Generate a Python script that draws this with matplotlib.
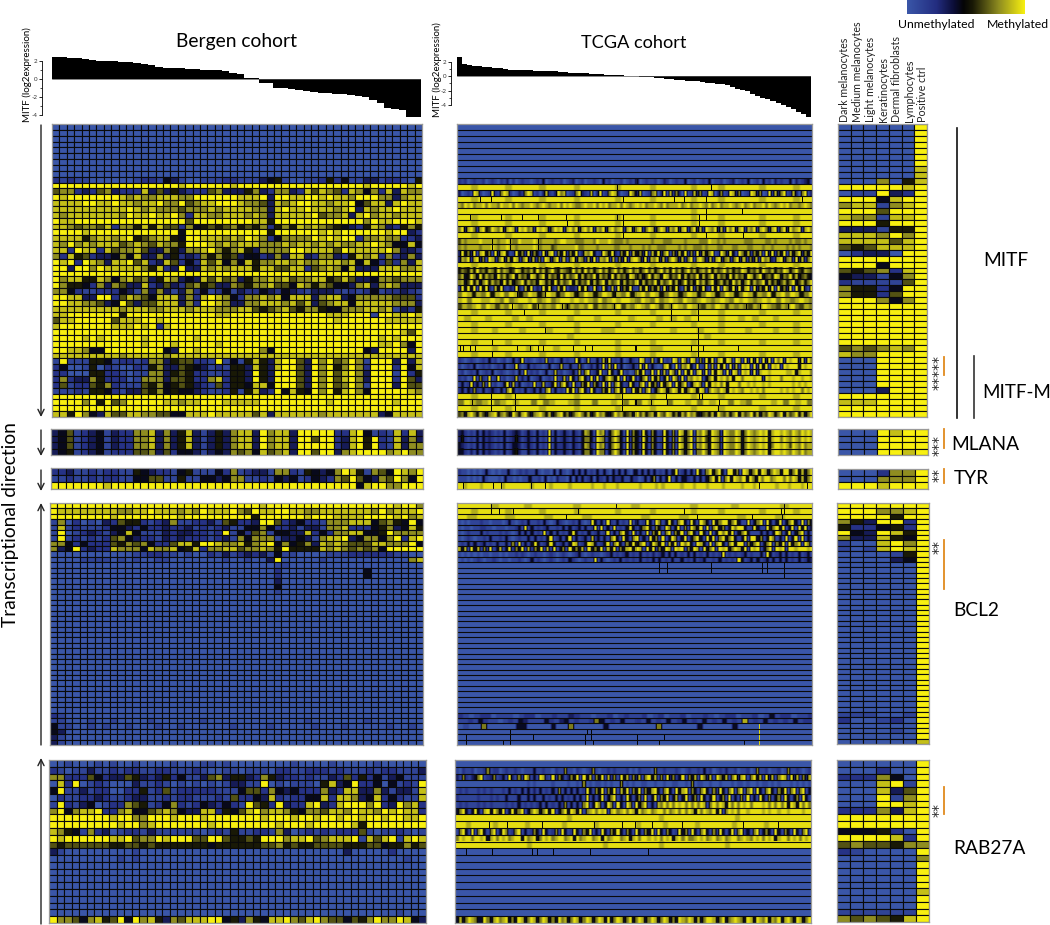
import numpy as np
import matplotlib
matplotlib.use('Agg')
import matplotlib.pyplot as plt
from matplotlib.colors import LinearSegmentedColormap

plt.rcParams['font.family'] = ['Lato', 'DejaVu Sans']

W, H = 1050, 925

# MITF expression, one value per sample
bergen_expr = [2.45, 2.45, 2.35, 2.3, 2.2, 2.1, 2.05, 2.0, 1.95, 1.9, 1.85, 1.8, 1.7, 1.55, 1.3, 1.25, 1.25,
               1.2, 1.15, 1.1, 1.05, 1.05, 0.95, 0.9, 0.7, 0.6, 0.15, 0.1, -0.4, -0.4, -0.95, -1.0, -1.1,
               -1.25, -1.3, -1.4, -1.5, -1.55, -1.65, -1.7, -1.8, -1.85, -1.95, -2.3, -2.7, -3.2, -3.35,
               -3.45, -4.2, -4.25]
tcga_expr = [2.6, 1.6, 1.5, 1.4, 1.35, 1.3, 1.2, 1.15, 1.05, 1.0, .9, .87, .84, .8, .78, .75, .72, .7, .67, .64,
             .6, .55, .5, .46, .42, .38, .34, .3, .26, .22, .18, .14, .1, .06, .02, -.03, -.07, -.12, -.18,
             -.24, -.3, -.36, -.42, -.48, -.54, -.6, -.65, -.72, -.8, -.88, -.95, -1.02, -1.1, -1.25, -1.45,
             -1.7, -1.9, -2.1, -2.45, -2.7, -3.0, -3.2, -3.4, -3.7, -4.0, -4.2, -4.5, -4.85, -5.2, -5.55]

cell_types = ['Dark melanocytes', 'Medium melanocytes', 'Light melanocytes', 'Keratinocytes',
              'Dermal fibroblasts', 'Lymphocytes', 'Positive ctrl']

# methylation per cell, 0 = unmethylated (blue), 4-5 = black, 9 = methylated (yellow)
blue = '0' * 50

bergen_mitf = [blue] * 9 + [
    '21211000000122143100111221113451001125241133122105',
    '99999999999999999899999989999999999999999989999989',
    '67723267322283635322267333573277328687628747283877',
    '98999999987877888779999998889399889989887999773788',
    '88889988988788977967889998776387899887889468838988',
    '88888888889878777677787888877389889888789387889888',
    '87888888879889889728877888787388888967783897887888',
    '98899999999999999969999999988599999999999979889998',
    '88767768277585866274565675657257587876543258732575',
    '99998999999999999499999999999599999989899999989932',
    '88885788789567885499888787987247777989899277877223',
    '87978788867876877599987878887778788787877889874484',
    '88298828677863375377897578537777998888698888897332',
    '72856233474833735232757563442373883277325878272373',
    '98929873889682386242868474857788787788878484262738',
    '99399798888875823933878788858866882678748333888778',
    '99999999999999999999999999999999999999999999999999',
    '97885587478673587343868673577878677885686334776777',
    '97554273763382363267563376577866487576443783787333',
    '77421122243173731372412413224324321333212124122321',
    '99883399268764888372898742778784888378834777776662',
    '99887763496366888372998733778887868367884888887773',
    '88888888878887788878887778865678657754477788781325',
    '88999999959999999999998899999999999998889991998898',
    '68899999688899899999999999999999999999899999988888',
    '89999999888989289999999999999999999999999999999999',
    '99999999999999999999999999999999999999999999999869',
    '99998989999989999998999999999999999999999999898999',
    '99999999999989998999998999999999999999999999889749',
    '99887449999999943998999999997499999999999943999939',
    '88888888878888878888888888888888888888888888888888',
    '19111554122127735662219141585389963979679719993938',
    '24001502100215733654312155385389963979579729992948',
    '22000552210117735652211255395399963979689739991925',
    '27233752220177736652278255395399963979689739992963',
    '26122657211165745653216255488499963979679719993966',
    '11121554213365745443211251583294854979589749999987',
    '99999999999999999999999999999999999999999999999999',
    '99997959679999988788999888889999999998999999998999',
    '99999999999999999999999999999999999999999999999999',
    '88597438668877664488898888868388888878888888348888',
]
bergen_mlana = [
    '34612341322778373583135378839788399999228941218283',
    '34612341322778373583135378839788399699238959218373',
    '34612341322778373583135378839788399999238959218377',
    '34512341222667362443134376748678399699378999978977',
]
bergen_tyr = [
    '22311212211543221451114271233177215434798517649879',
    '11211212211446611511443477112143412432769643769749',
    '99999998999999999999999999999999999999999489977999',
]
bergen_bcl2 = [
    '99999999999999999999999999998999999999999999998997',
    '98888888877889888787988897698899887788888887978889',
    '99999999899999999899999999959999998999888899998978',
    '17020103265521237112231652239962342217778884675494',
    '18121112443242232231212311447422313317782224573485',
    '19012321348411132332212914267144338242778844597777',
    '19121212674322132322212317477713343178893477479289',
    '77424222657674226885998778578947457387876668877794',
    '73492322877748778458277886778759555587876767499999',
    '00000000000112211010021312323141100001112222221100',
    '00001111010100110000000100100390000010000000000078',
    '00000000000000000000000000000011000000000000000000',
    '00000000000000000000000000000020000000000040000000',
    '00000000000000000000000000000020000000000040000000',
    '00000000000000000000000000000030000000000000000000',
    '00000000000000000000000000000040000000000000000000',
    '00000000000000000000000000000010000000000000000000',
] + [blue] * 22 + [
    '21000000000000000000000000000000000000000000000000',
    '11000100100001000000100000000000001000000010000000',
    '41100101001000100100000010000100000100010000010010',
    '43000000000000000000000000000000000000000000000000',
    '31000000000000000000000000000000000000000000000000',
    '31000000000000000000000000000000000000000000000000',
]
bergen_rab = [
    '00100010100100001000110100000000100001000001000000',
    '21011311212211221112100110111022112221211121221113',
    '77222642336532352411367355327532212113262524134111',
    '08290121000311210101010133119010111058349224041219',
    '49113122002251261222221114662743422273288337313318',
    '02112232112331121221112162243821224482887348242118',
    '19213401227651247212432421965293228932899979239782',
    '79478892278446787433882546897887547768879887989882',
    '99999999899779998999899999998999899899899899899889',
    '99999999989978999999989999999989998999998599999999',
    '87541723012213111111012151122173012121222610112101',
    '98999999889677989996699655659997889678889186891898',
    '65666666556656555555545555556675655666655566455756',
    '31000000000100000000000000000000000000030000020000',
    '00000000010100000000000000000000000000000000000100',
] + [blue] * 7 + [
    '00000000000000000000000000000000000000000000001000',
    '97764785694978537688899453754889768976646579779843',
]

cell_mitf = ['0000009'] * 7 + ['0000008'] * 2 + [
    '0007058', '9999989', '0119329', '9994899', '7881789', '9996999', '8771889', '9995999', '3331559',
    '8887979', '8888689', '6568889', '0233099', '9999999', '9994999', '6567289', '4331479', '2111169',
    '7552499', '7552699', '9997479', '9999999', '9999999', '9999999', '9999999', '9999999', '9999999',
    '9999999', '6767879', '8779999', '0009999', '0009999', '0009999', '0009999', '0009999', '0003999',
    '9999999', '8889999', '9999999', '9999999',
]
cell_mlana = ['0009899', '0009999', '0009999', '0009989']
cell_tyr = ['0002779', '0007779', '9998999']
cell_bcl2 = ['9999999', '9997789', '9999599', '7539929', '5224529', '9439859', '7338549', '1008979', '1018989',
             '0000159', '0000349'] + ['0000009'] * 28 + ['1110019', '2001209', '0000009', '0000109', '0000009',
             '0000008']
cell_rab = ['0000009', '0002009', '2227409', '0008919', '0008369', '0009179', '0009989', '2227389', '9999999',
            '9999999', '4445209', '9999829', '6766577', '2100009', '0000007', '0000009', '0000009', '0000009',
            '0000009', '0000008', '0000009', '0000009', '1111119', '7676589']

tcga_blue = '0'
tcga_yel = '9989999899998999989999989999899999899989999989999899'
tcga_mitf = [tcga_blue] * 9 + [
    '2120121120121021302012110121401211201230120112104120112012140121120132012114012012140112012301214012041203121140312341',
    tcga_yel,
    '3012198201292179820132798120382139780127932180391279830129738012780391827309128371298037129837012983701928379128307913',
    tcga_yel,
    '8798978897988798897987889878987889798987789889798978897987898978898797888978978898797897889878978978897987898978878987',
    '9999999999999999999999999999999999899999999999999999',
    tcga_yel,
    tcga_yel,
    '7938972895698793898298978298983798928979389792879389789289389279837982879389279382987938297938928792897389279397892897',
    tcga_yel,
    '6878888988888788987798888987888878998887778887988898777878888888788877788887888877798878788888877788887787888878778788',
    '7878888788898788988788888987888678888889778888788888778887888787887778888787887778788877888778887788878878888787878887',
    '3947391894719389412947293741938917492749138794129749317492847391849379173849272938479129739419748274819392749184793749',
    '3879289371982793849827938271983792817938728391879281739289739287938279738279189738289378279382738297832893782938279',
    tcga_yel,
    '5765859675875968756985768596857965876596859685796857968579685796857968596857968578695867968576985768597685769857965876',
    '6845974958674968579486749857948674958679485769486749586749857469587498576948576948579486749586749857946759847695846754',
    '7846958479586749584679586749857495867948576948579486794857694857694867958469574968579468574968479586794857468579468579',
    '2949491949318492132931849132949318491332949319319418293749218493748293749318492749319491974939489193749391947391949319',
    '7985879589798579857985798579857985879589798579857985798579857985879589798579',
    '8979988987978998978978998989879789899879879789879878987898798987898979878987',
    '6878979868798789687879868787968787968798798687987987687986878768798768797687',
    tcga_yel,
    '9899899989899999899989999899989898999989989899899999',
    tcga_yel,
    '9989989998999899989998899989999899989989998999899899',
    '9999999999999999899999999999999999998999999999999999',
    tcga_yel,
    '9999989999899989999999989999889999999999999999999999',
    tcga_yel,
    '2101210121412012014139121012181201412119402811418391214014219812814912198197198172949189498198192939193919792989939297',
    '2012140121201214012920141211014012811411720131419182914012419291410189409187941912918194919281989192949198919899949899',
    '1201214012140121012041912120140181201241817912491294149120184912919281972919491892919498192981989292899899999889489997',
    '2120191721912912012813140124012191281941794192914797491924914791948149197291879891479498979499799989929899979998998998',
    '1412924171912014928140121912812491794192174917419291794129417919472947919479148971949897949997998989989899999998989899',
    '2414272141242141794121412414179141219491794194127491794912948179147984798494798498179879849898799898979999989898997989',
    tcga_yel,
    '7987897898997978998799799897979899799897989979879998979897',
    tcga_yel,
    '6748975864789578649758964789758468957468975846978546978567496857849769857486978546758497685794867958476985794867958479',
]
tcga_mlana = [
    '3421214142321214123431242141219141242142148741978147984192742941741294171984791879749872987798479878989489989879879898',
    '3521214142321214123531242141219141242142147741987147974192742951741294171974791879649872987798479878989489979879879898',
    '4321214142321214124431242141219142242142148731978147984192742941741294271984791879749872987798479878989479989869879788',
    '4421314142321214124531142141219142242142147741977147974192742941741294271974791779749872987798479878989489989879879788',
]
tcga_tyr = [
    '2110101014101011410121211410110404101414141214141041414104141414121414912414194179479419947198479498479849947948479',
    '1110101041000104110101141120401031104041412404214142241142014147041491414421414147949179498794974979978997979848479',
    '9989999899999989999999989999989999989999998999899989999998999989899999899989998999989999989998999999899989998999',
]
tcga_bcl2 = [
    '9999899989999989999998999999899998999998999',
    tcga_yel,
    '9899989998999899999899989999989998999',
    '1010111211011101410121411214101421012141019414192141219141294197149417941941974194799479411914791941491479419174',
    '1011011221101110112419141212411214141241412919141912149414794174197149171974919179471497994129411947949149194924',
    '1012111412111212101414141219141412149412141241291417941914191749179174917941941914979491479411141414971491479141',
    '1012101121411214101211414121491241491412418241417941941791419471914971491479419491794794149199471497141914919142',
    '1214141241214114171914149412494124149812498412491794174947914974918491979419841917941794991747914791749194791971',
    '8481948172914814927491827491829147194748194749184917489498194927498198917498194791989479849198914791989199899989',
    '1010101011011010112121012110121012101241012110124121241214121312414141214141214121291212124121141941241412141241',
    '0101012101121011011210141210121012142101211914101214121214121414121411412141241121412121941241412414141412141243',
    '0',
    '0',
    '0',
    '0',
] + [tcga_blue] * 24 + [
    '2101220111012201121132110112012112012011201121012201120141220112',
    '1121421101214311142134121127412141121412141241214121412181214121214122',
    '0100700000440000400700000400000000700000040000040000000000000',
    '0',
    '0',
    '0',
]
tcga_rab = [
    tcga_blue,
    '1021120112712201211210111411211021171102101271011212111201021110711211121012112141201213112011201711201120171121012',
    '3172134791237124193172971419821927413749194817491827194817381794817193724917481973819748179389179481938179819381738',
    '0000000000000000000000010100000100001001070101101010070101001100100100110010701100100100010110100101101010001010101',
    '1212111212121112141214141314121417141414129417491749184917491748941794194891741794172941791791791941794174917917914',
    '2111111211121211411141141411412141412141419141491479141941471914917491481491471941491471914171914194171471941471941',
    '1212111212121111212141212124141214271414179149714971941971947914187979798979797981797984979798979998979797949849797',
    '4794149418949749149479147984794914794984917897989189789798497897899797897979849798794917989799899998989989989999899',
    '9999999999999999999999899999999999999999899999999999999899999999999999',
    '9989999899999899999989999989999999899998999998999999899999899999999',
    '1794191794179149712791412741941271941294174914194174941741941749194174129471941794172941491792417914741941741941791',
    '7989979989489798978994978947989789978949789978949789978948979989897989489797789897897897899789879897989489979897989',
    '9999999999999989999999999999989999999999899999999999989999999999999999',
    '0',
] + [tcga_blue] * 9 + [
    '4847987449748978947498479847984749784798479847984947984794798479847984749879848479984794789874984987948794897498479',
]

# thin black lines that cut TCGA rows, as pixel offset from the left of the panel
tcga_mitf_ticks = {10: [160, 253], 12: [23, 34, 166, 216, 226, 248, 344], 14: [248, 284],
                   15: [13, 44, 65, 81, 109, 160, 166, 241, 248], 16: [110, 166, 241], 18: [166, 248, 285],
                   19: [35, 53, 81], 20: [35, 53, 81], 28: [60, 88, 120, 158], 30: [55, 81, 105, 110, 157, 213, 240, 288, 302, 330],
                   31: [67, 213, 240], 32: [213, 240], 34: [88, 240], 35: [240], 36: [35, 240],
                   37: [3, 6, 13, 18, 60, 73, 81, 86, 116, 128, 135, 178, 233, 240, 245, 280], 38: [35, 240],
                   45: [34, 58, 165, 208, 241, 244], 46: [15, 34, 58, 165, 178, 193, 209, 261], 47: [34, 58, 165, 260]}
tcga_tyr_ticks = {2: [6, 36, 44, 74, 88, 301, 349]}
tcga_bcl2_ticks = {0: [34, 159, 326], 1: [34, 42, 56, 121, 226, 323, 326], 2: [109, 239, 294, 324],
                   11: [201, 209, 253, 304, 309, 326], 12: [201, 209, 253, 304, 309, 326], 13: [326],
                   42: [53, 130, 134], 43: [9, 53, 76, 128, 134, 179, 206], 44: [9, 46, 53, 128, 136, 179, 201, 286]}
tcga_rab_ticks = {9: [34, 52, 87, 139, 167, 180, 197, 227, 288, 323], 13: [11, 37, 77, 82, 98, 135, 193]}

# thin yellow lines in the blue rows of BCL2
tcga_bcl2_yellow = {41: [301], 42: [301], 43: [301], 44: [301]}

panels = [
    ('mitf', bergen_mitf, tcga_mitf, tcga_mitf_ticks, {}, cell_mitf),
    ('mlana', bergen_mlana, tcga_mlana, {}, {}, cell_mlana),
    ('tyr', bergen_tyr, tcga_tyr, tcga_tyr_ticks, {}, cell_tyr),
    ('bcl2', bergen_bcl2, tcga_bcl2, tcga_bcl2_ticks, tcga_bcl2_yellow, cell_bcl2),
    ('rab', bergen_rab, tcga_rab, tcga_rab_ticks, {}, cell_rab),
]

# pixel boxes of the panels: x0, x1 for the three columns, y0, y1 for the cohort and cell ones
boxes = {
    'mitf': ((52, 422), (457, 812), (838, 927), (124, 417), (124, 417)),
    'mlana': ((51, 423), (457, 812), (838, 928), (429, 455), (429, 455)),
    'tyr': ((51, 423), (457, 812), (838, 928), (468, 489), (469, 489)),
    'bcl2': ((50, 423), (457, 812), (837, 929), (503, 745), (503, 744)),
    'rab': ((49, 426), (455, 811), (837, 929), (760, 923), (760, 922)),
}

cmap = LinearSegmentedColormap.from_list('meth', [(0, '#3A56A8'), (.25, '#232D80'), (.40, '#0b0d35'), (.48, '#050505'),
                                                  (.56, '#1a1a06'), (.78, '#8f8d20'), (1, '#F8F010')])

fig = plt.figure(figsize=(W / 100, H / 100), dpi=100)


def px_axes(x0, y0, x1, y1):
    return fig.add_axes([x0 / W, 1 - y1 / H, (x1 - x0) / W, (y1 - y0) / H])


def to_grid(rows, n):
    grid = np.zeros((len(rows), n))
    for i, s in enumerate(rows):
        vals = np.array([int(c) for c in s], dtype=float)
        grid[i] = vals[np.arange(n) * len(vals) // n]
    return grid


def frame(ax):
    ax.set_xticks([])
    ax.set_yticks([])
    for s in ax.spines.values():
        s.set_color('#9a9a9a')
        s.set_linewidth(0.9)


def draw_cells(box_x, box_y, rows, n):
    ax = px_axes(box_x[0], box_y[0], box_x[1], box_y[1])
    ax.pcolormesh(to_grid(rows, n), cmap=cmap, vmin=0, vmax=9, edgecolors='#0a0a0a', linewidth=0.8,
                  antialiased=True)
    ax.invert_yaxis()
    frame(ax)


def draw_tcga(box_x, box_y, rows, ticks, yellow):
    ax = px_axes(box_x[0], box_y[0], box_x[1], box_y[1])
    n = box_x[1] - box_x[0]
    grid = to_grid(rows, n) * 0.96
    # the stripes in the original are soft, blur them along the row
    kernel = np.array([1, 2, 1]) / 4
    for r in range(len(rows)):
        grid[r] = np.convolve(np.pad(grid[r], 1, mode='edge'), kernel, mode='valid')
    for r, cols in ticks.items():
        grid[r, cols] = 4.3
    for r, cols in yellow.items():
        grid[r, cols] = 8.5
    ax.imshow(grid, cmap=cmap, vmin=0, vmax=9, aspect='auto', interpolation='nearest',
              extent=(0, 1, len(rows), 0))
    ax.hlines(np.arange(1, len(rows)), 0, 1, color='#0a0a0a', lw=0.8)
    frame(ax)


for name, bergen, tcga, ticks, yellow, cells in panels:
    xb, xt, xc, yb, yc = boxes[name]
    draw_cells(xb, yb, bergen, 50)
    draw_tcga(xt, yb, tcga, ticks, yellow)
    draw_cells(xc, yc, cells, 7)


def draw_bars(box, vals, ylim, ticks, minor, spine_x):
    ax = px_axes(*box)
    ax.bar(np.arange(len(vals)), vals, width=1.02, color='black')
    ax.axhline(0, color='#555555', lw=0.5)
    ax.set_xlim(-.5, len(vals) - .5)
    ax.set_ylim(*ylim)
    ax.axis('off')
    ax2 = px_axes(spine_x, box[1], spine_x + 1, box[3])
    ax2.set_ylim(*ylim)
    ax2.set_xticks([])
    for s in ['top', 'right', 'bottom']:
        ax2.spines[s].set_visible(False)
    ax2.patch.set_alpha(0)
    ax2.spines['left'].set_linewidth(.6)
    ax2.spines['left'].set_bounds(ticks[-1], ticks[0])
    ax2.set_yticks(ticks)
    ax2.set_yticklabels([str(t) for t in ticks], fontsize=4.5, color='#333333')
    ax2.set_yticks(minor, minor=True)
    ax2.tick_params(axis='y', length=2.5, width=.6, pad=1)
    ax2.tick_params(axis='y', which='minor', length=1.5, width=.5)


draw_bars((52, 55, 421, 118), bergen_expr, (-4.33, 2.67), [2, 0, -2, -4], [1, -1, -3], 42)
draw_bars((457, 55, 811, 117), tcga_expr, (-5.6, 2.9), [2, 0, -2, -4], [1, -1, -3], 451)

# whole-figure overlay in pixel coordinates for texts and annotation lines
top = fig.add_axes([0, 0, 1, 1])
top.set_xlim(0, W)
top.set_ylim(H, 0)
top.axis('off')
top.patch.set_alpha(0)

top.text(237, 41, 'Bergen cohort', fontsize=13.9, ha='center', va='center')
top.text(634, 43, 'TCGA cohort', fontsize=13.1, ha='center', va='center')
top.text(27, 75, 'MITF (log2expression)', fontsize=7, rotation=90, ha='center', va='center')
top.text(437, 70, 'MITF (log2expression)', fontsize=7, rotation=90, ha='center', va='center')
top.text(11, 525, 'Transcriptional direction', fontsize=13.8, rotation=90, ha='center', va='center')

for lab, x, y, fs in [('MITF', 1006, 261, 13.8), ('MITF-M', 1017, 392, 13.5), ('MLANA', 985, 444, 13.8),
                      ('TYR', 971, 479, 13.8), ('BCL2', 976, 610, 13.8), ('RAB27A', 989, 849, 13.8)]:
    top.text(x, y, lab, fontsize=fs, ha='center', va='center')

for i, lab in enumerate(cell_types):
    top.text(845 + i * 12.9, 122, lab, fontsize=7.7, rotation=90, ha='center', va='bottom', color='#222222')

top.text(936, 25, 'Unmethylated', fontsize=8.8, ha='center', va='center')
top.text(1018, 25, 'Methylated', fontsize=8.8, ha='center', va='center')
cbar = px_axes(907, 0, 1025, 14)
cbar.imshow(np.linspace(0, 1, 256)[None, :], cmap=cmap, aspect='auto')
cbar.axis('off')

# direction arrows
for y0, y1 in [(125, 417), (430, 456), (470, 491), (745, 503), (924, 758)]:
    top.annotate('', xy=(41, y1), xytext=(41, y0),
                 arrowprops=dict(arrowstyle='->', color='#222222', lw=1.0, mutation_scale=11, shrinkA=0, shrinkB=0))

top.plot([957, 957], [128, 418], color='#111111', lw=1.2)
top.plot([974, 974], [356, 418], color='#333333', lw=1.2)
for y0, y1 in [(357, 375), (429, 448), (469, 483), (540, 589), (787, 814)]:
    top.plot([944, 944], [y0, y1], color='#E08A1E', lw=1.3)
for stars, y in [('*****', 373), ('***', 446), ('**', 475), ('**', 546.5), ('**', 810)]:
    top.text(939, y, stars, fontsize=10, rotation=90, ha='center', va='center', color='#222222',
             family='DejaVu Sans')

fig.savefig('out.png', dpi=100)
